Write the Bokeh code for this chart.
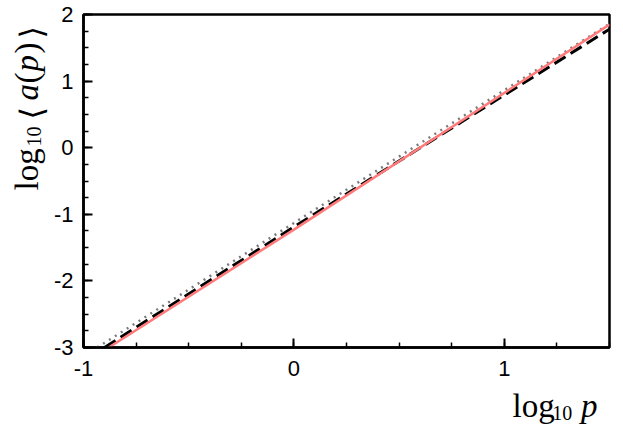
import numpy as np
from bokeh.plotting import figure
from bokeh.layouts import row, column
from bokeh.models import FixedTicker, Range1d
from bokeh.core.properties import value
from bokeh.embed import file_html
from bokeh.resources import INLINE

# ---- data ----
red_x = [-0.88, 0.0, 1.5]
red_y = [-3.0, -1.23, 1.85]
dash_x = [-0.90, 0.0, 1.5]
dash_y = [-3.0, -1.19, 1.78]
dot_x = [-0.935, 0.0, 1.5]
dot_y = [-3.0, -1.13, 1.86]

x_major = [-1, 0, 1]
y_major = [-3, -2, -1, 0, 1, 2]
x_minor = [-1 + 0.25 * i for i in range(11)]
y_minor = [-3 + 0.25 * i for i in range(21)]
x_tick_labels = {-1: "-1", 0: "0", 1: "1"}
y_tick_labels = {-3: "-3", -2: "-2", -1: "-1", 0: "0", 1: "1", 2: "2"}

X0, X1 = -1.0, 1.5
Y0, Y1 = -3.0, 2.0

# ---- layout sizes ----
TOTAL_W, TOTAL_H = 620, 429
YL_W = 50                      # left strip holding the y-axis title
MAIN_W, MAIN_H = TOTAL_W - YL_W, 388
XL_H = TOTAL_H - MAIN_H        # bottom strip holding the x-axis title
BL, BR, BT, BB = 82 - YL_W, 11, 14, MAIN_H - 347

p = figure(width=MAIN_W, height=MAIN_H, output_backend="svg", toolbar_location=None,
           x_range=Range1d(X0, X1), y_range=Range1d(Y0, Y1),
           min_border_left=BL, min_border_right=BR, min_border_top=BT,
           min_border_bottom=BB)
p.grid.visible = False
p.background_fill_color = "white"
p.border_fill_color = "white"
p.outline_line_color = "black"
p.outline_line_width = 2.5

for ax in (p.xaxis[0], p.yaxis[0]):
    ax.axis_line_width = 2.5
    ax.axis_line_color = "black"
    ax.major_tick_in = 9
    ax.major_tick_out = 0
    ax.minor_tick_in = 5
    ax.minor_tick_out = 0
    ax.major_tick_line_width = 2
    ax.minor_tick_line_width = 1.5
    ax.major_label_text_font = "Liberation Sans"
    ax.major_label_text_font_size = "22px"
    ax.major_label_text_color = "black"

p.xaxis.major_label_standoff = 13
p.yaxis.major_label_standoff = 10
p.xaxis.ticker = FixedTicker(ticks=x_major, minor_ticks=x_minor)
p.yaxis.ticker = FixedTicker(ticks=y_major, minor_ticks=y_minor)
p.xaxis.major_label_overrides = x_tick_labels
p.yaxis.major_label_overrides = y_tick_labels

p.line(dot_x, dot_y, line_color="#7a7a7a", line_width=2.5, line_dash="2 5")
p.line(dash_x, dash_y, line_color="black", line_width=3, line_dash="13 6")
p.line(red_x, red_y, line_color="#ff7b7b", line_width=2.5)


def strip(w, h):
    f = figure(width=w, height=h, output_backend="svg", toolbar_location=None,
               x_range=Range1d(0, w), y_range=Range1d(0, h),
               x_axis_type=None, y_axis_type=None, min_border=0)
    f.grid.visible = False
    f.outline_line_color = None
    f.background_fill_color = "white"
    f.border_fill_color = "white"
    return f


# y-axis title strip (image x 0..YL_W, y 0..TOTAL_H)
yl = strip(YL_W, TOTAL_H)
# x-axis title strip (image x YL_W..TOTAL_W, y MAIN_H..TOTAL_H)
xl = strip(MAIN_W, XL_H)


def put(f, ox, oy, h, text, px, py, size, style="normal", angle=0.0,
        font="Liberation Serif"):
    f.text(x=[px - ox], y=[h - (py - oy)], text=[text],
           text_font=value(font), text_font_size=f"{size}px",
           text_font_style=style, text_color="black", text_align="left",
           text_baseline="alphabetic", angle=angle)


F, S, B = 33, 20, 32
# x axis title: log10 p
put(xl, YL_W, MAIN_H, XL_H, "log", 515, 405, F)
put(xl, YL_W, MAIN_H, XL_H, "10", 558, 412, S)
put(xl, YL_W, MAIN_H, XL_H, "p", 589, 405, F, "italic")

# y axis title: log10 <a(p)>
A = np.pi / 2
bx = 26
put(yl, 0, 0, TOTAL_H, "log", bx, 190, F, angle=A)
put(yl, 0, 0, TOTAL_H, "10", bx + 7, 146, S, angle=A)
put(yl, 0, 0, TOTAL_H, "\u27e8", bx + 5, 119, B, angle=A, font="DejaVu Serif")
put(yl, 0, 0, TOTAL_H, "a", bx, 100, F, "italic", angle=A)
put(yl, 0, 0, TOTAL_H, "(", bx, 83, F, angle=A)
put(yl, 0, 0, TOTAL_H, "p", bx, 71, F, "italic", angle=A)
put(yl, 0, 0, TOTAL_H, ")", bx, 53, F, angle=A)
put(yl, 0, 0, TOTAL_H, "\u27e9", bx + 5, 38, B, angle=A, font="DejaVu Serif")

layout = row(yl, column(p, xl, spacing=0), spacing=0)
open("out.html", "w").write(file_html(layout, INLINE))
